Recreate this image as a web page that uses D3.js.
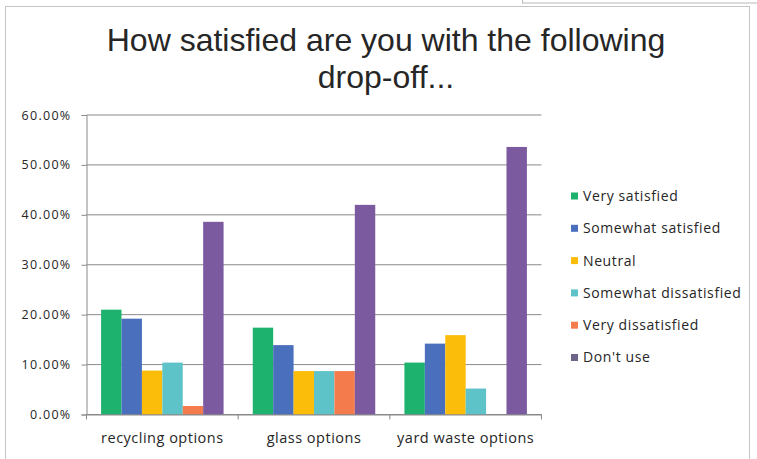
<!DOCTYPE html>
<html>
<head>
<meta charset="utf-8">
<script src="https://cdn.jsdelivr.net/npm/d3@7"></script>
<style>
  body { margin: 0; background: #fff; }
  svg text { fill: #262626; }
</style>
</head>
<body>
<div id="my_dataviz"></div>
<script>
// data (percent)
const categories = ["recycling options", "glass options", "yard waste options"];
const seriesNames = ["Very satisfied", "Somewhat satisfied", "Neutral", "Somewhat dissatisfied", "Very dissatisfied", "Don't use"];
const verySatisfied = [21.0, 17.4, 10.4];
const somewhatSatisfied = [19.2, 13.9, 14.2];
const neutral = [8.8, 8.7, 15.9];
const somewhatDissatisfied = [10.4, 8.7, 5.2];
const veryDissatisfied = [1.7, 8.7, 0];
const dontUse = [38.6, 42.0, 53.6];
const yTicks = [0, 10, 20, 30, 40, 50, 60];
const titleLines = ["How satisfied are you with the following", "drop-off..."];

const colors = ["#1db36e", "#4a6fbd", "#fbbc0a", "#5ec3c9", "#f47b4c", "#7b5aa0"];
const legendColors = ["#1db36e", "#4a6fbd", "#fbbc0a", "#5ec3c9", "#f47b4c", "#6e6488"];

const allSeries = [verySatisfied, somewhatSatisfied, neutral, somewhatDissatisfied, veryDissatisfied, dontUse];
const data = categories.map(function (c, i) {
    return {cat: c, values: allSeries.map(function (s, j) { return {name: seriesNames[j], v: s[i], k: j}; })};
});

const W = 757, H = 459;
const margin = {top: 115, left: 86.5, right: 215.5, bottom: 44.5};
const width = W - margin.left - margin.right,
    height = H - margin.top - margin.bottom;

const svg = d3.select("#my_dataviz")
    .append("svg")
    .attr("width", W)
    .attr("height", H);

// outer frame
svg.append("rect")
    .attr("x", 5.5).attr("y", 6.5)
    .attr("width", 744).attr("height", 470)
    .attr("fill", "none")
    .attr("stroke", "#c4c4c4");
svg.append("rect")
    .attr("x", 522.5).attr("y", -2)
    .attr("width", 240).attr("height", 5)
    .attr("fill", "#fff")
    .attr("stroke", "#b8b8b8");

// title
svg.append("g").selectAll("text")
    .data(titleLines)
    .join("text")
    .attr("x", 386)
    .attr("y", function (d, i) { return 51 + i * 37; })
    .attr("text-anchor", "middle")
    .style("font-family", "'Liberation Sans', Arial, sans-serif")
    .style("font-size", "32px")
    .text(function (d) { return d; });

const g = svg.append("g")
    .attr("transform", `translate(${margin.left},${margin.top})`);

const x = d3.scaleBand()
    .domain(categories)
    .range([0, width]);

const xSub = d3.scaleBand()
    .domain(seriesNames)
    .range([0, x.bandwidth()])
    .paddingOuter(0.715);

const y = d3.scaleLinear()
    .domain([0, 60])
    .range([height, 0]);

// gridlines
g.append("g")
    .selectAll("line")
    .data(yTicks)
    .join("line")
    .attr("x1", 0).attr("x2", width)
    .attr("y1", function (d) { return y(d); })
    .attr("y2", function (d) { return y(d); })
    .attr("stroke", "#8a8a8a")
    .attr("stroke-width", 1);

// y axis
const yAxis = g.append("g")
    .call(d3.axisLeft(y).tickValues(yTicks).tickSize(5).tickPadding(10)
        .tickFormat(function (d) { return d.toFixed(2) + "%"; }));
yAxis.select(".domain").attr("stroke", "#8a8a8a");
yAxis.selectAll(".tick line").attr("stroke", "#8a8a8a");
yAxis.selectAll("text")
    .style("font-family", "'Open Sans', sans-serif")
    .style("font-size", "12.5px")
    .style("letter-spacing", "1.3px")
    .attr("fill", "#333");

// bars
g.append("g")
    .selectAll("g")
    .data(data)
    .join("g")
    .attr("transform", function (d) { return `translate(${x(d.cat)},0)`; })
    .selectAll("rect")
    .data(function (d) { return d.values; })
    .join("rect")
    .attr("x", function (d) { return xSub(d.name); })
    .attr("width", xSub.bandwidth())
    .attr("y", function (d) { return y(d.v); })
    .attr("height", function (d) { return height - y(d.v); })
    .attr("fill", function (d) { return colors[d.k]; });

// x axis
const xAxis = g.append("g")
    .attr("transform", `translate(0,${height})`)
    .call(d3.axisBottom(x).tickSize(0).tickPadding(18));
xAxis.select(".domain").attr("stroke", "#8a8a8a");
xAxis.selectAll("text")
    .style("font-family", "'Open Sans', sans-serif")
    .style("font-size", "14.5px")
    .style("letter-spacing", "0.5px")
    .attr("fill", "#333");
// category boundary ticks
xAxis.append("g")
    .selectAll("line")
    .data(d3.range(categories.length + 1))
    .join("line")
    .attr("x1", function (i) { return i * x.step(); })
    .attr("x2", function (i) { return i * x.step(); })
    .attr("y1", 0).attr("y2", 5)
    .attr("stroke", "#8a8a8a");

// legend
const legend = svg.append("g")
    .attr("transform", "translate(571,196)")
    .selectAll("g")
    .data(seriesNames)
    .join("g")
    .attr("transform", function (d, i) { return `translate(0,${i * 32.3})`; });
legend.append("rect")
    .attr("x", 0).attr("y", -3.5)
    .attr("width", 7).attr("height", 7)
    .attr("fill", function (d, i) { return legendColors[i]; });
legend.append("text")
    .attr("x", 12)
    .attr("dy", "0.35em")
    .style("font-family", "'Open Sans', sans-serif")
    .style("font-size", "14px")
    .style("letter-spacing", "0.6px")
    .attr("fill", "#333")
    .text(function (d) { return d; });
</script>
</body>
</html>
